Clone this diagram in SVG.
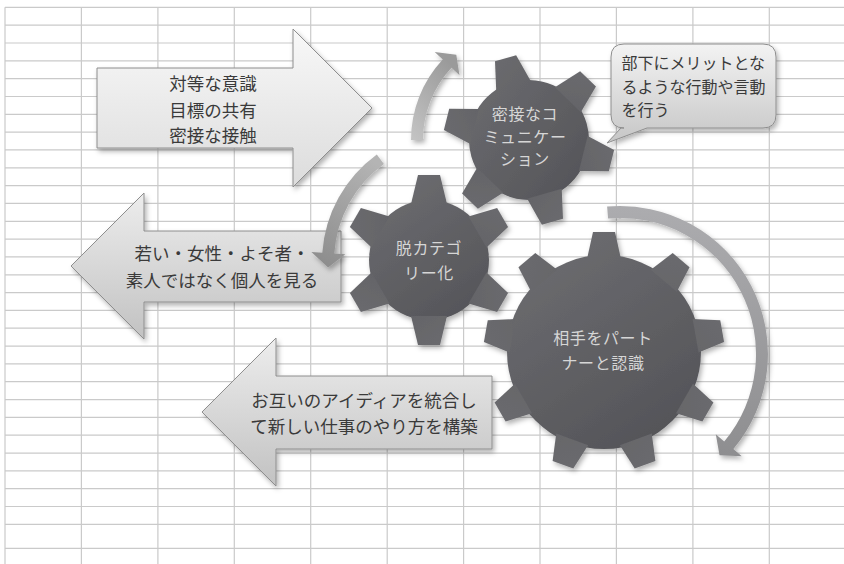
<svg xmlns="http://www.w3.org/2000/svg" width="844" height="564" viewBox="0 0 844 564">
<defs>
<style>
.t{font-family:"Noto Sans CJK JP","Noto Sans CJK SC",sans-serif;}
.at{font-size:17.5px;fill:#3a3a3a;text-anchor:middle;}
.gt{font-size:16px;fill:#d6d6d6;text-anchor:middle;letter-spacing:0.6px;}
.ct{font-size:16px;fill:#3a3a3a;}
.blk{stroke:#8e8e8e;stroke-width:1;}
</style>
<filter id="sh" x="-20%" y="-20%" width="140%" height="140%"><feDropShadow dx="2" dy="3" stdDeviation="2.5" flood-color="#000" flood-opacity="0.3"/></filter>
<linearGradient id="gA1" x1="0" y1="0" x2="0" y2="1"><stop offset="0" stop-color="#f8f8f8"/><stop offset="1" stop-color="#dcdcdc"/></linearGradient>
<linearGradient id="gA2" x1="0" y1="0" x2="0" y2="1"><stop offset="0" stop-color="#ededed"/><stop offset="1" stop-color="#c2c2c2"/></linearGradient>
<linearGradient id="gCo" x1="0" y1="0" x2="0" y2="1"><stop offset="0" stop-color="#f3f3f3"/><stop offset="1" stop-color="#c6c6c6"/></linearGradient>
<linearGradient id="gG6" gradientUnits="userSpaceOnUse" x1="-60" y1="-85" x2="60" y2="85"><stop offset="0" stop-color="#6e6e72"/><stop offset="1" stop-color="#505054"/></linearGradient>
<linearGradient id="gG9" gradientUnits="userSpaceOnUse" x1="-80" y1="-120" x2="80" y2="120"><stop offset="0" stop-color="#6e6e72"/><stop offset="1" stop-color="#505054"/></linearGradient>
<linearGradient id="cA" x1="0" y1="1" x2="0.6" y2="0"><stop offset="0" stop-color="#c4c4c4"/><stop offset="1" stop-color="#9a9a9a"/></linearGradient>
<linearGradient id="cB" x1="0.7" y1="0" x2="0.3" y2="1"><stop offset="0" stop-color="#b4b4b4"/><stop offset="1" stop-color="#8e8e8e"/></linearGradient>
<linearGradient id="cC" x1="0" y1="0" x2="0" y2="1"><stop offset="0" stop-color="#acacaf"/><stop offset="1" stop-color="#8e8e90"/></linearGradient>
<polygon id="t6" points="-18,-56 -11,-85 11,-85 18,-56"/>
<polygon id="t9" points="-17,-93 -11,-120 11,-120 17,-93"/>
</defs>
<rect width="844" height="564" fill="#ffffff"/>
<g id="grid" fill="none" stroke="#cacaca" stroke-width="1.2">
<path d="M5 7.3H844M5 25.1H844M5 43H844M5 60.8H844M5 78.6H844M5 96.5H844M5 114.3H844M5 132.1H844M5 149.9H844M5 167.8H844M5 185.6H844M5 203.4H844M5 221.3H844M5 239.1H844M5 256.9H844M5 274.8H844M5 292.6H844M5 310.4H844M5 328.2H844M5 346.1H844M5 363.9H844M5 381.7H844M5 399.6H844M5 417.4H844M5 435.2H844M5 453.1H844M5 470.9H844M5 488.7H844M5 506.5H844M5 524.4H844M5 548.3H844"/>
<path d="M5 7.3V564M81.4 7.3V564M157.9 7.3V564M234.3 7.3V564M310.7 7.3V564M387.2 7.3V564M463.6 7.3V564M540 7.3V564M616.4 7.3V564M692.9 7.3V564M769.3 7.3V564"/>
</g>
<g id="arrow-equal">
<polygon class="blk" fill="url(#gA1)" filter="url(#sh)" points="97,68 293,68 293,29 372,108 293,187 293,148 97,148"/>
<text class="t at" x="213" y="90">対等な意識</text>
<text class="t at" x="213" y="116.7">目標の共有</text>
<text class="t at" x="213" y="141.7">密接な接触</text>
</g>
<g id="arrow-individual">
<polygon class="blk" fill="url(#gA2)" filter="url(#sh)" points="341,231 144,231 144,193 71,266 144,339 144,302 341,302"/>
<text class="t at" x="222" y="260">若い・女性・よそ者・</text>
<text class="t at" x="222" y="286.7">素人ではなく個人を見る</text>
</g>
<g id="arrow-ideas">
<polygon class="blk" fill="url(#gA2)" filter="url(#sh)" points="492,376 276,376 276,338 202,412 276,486 276,449 492,449"/>
<text class="t at" x="364" y="406.7">お互いのアイディアを統合し</text>
<text class="t at" x="364" y="433.4">て新しい仕事のやり方を構築</text>
</g>
<g id="callout">
<path class="blk" fill="url(#gCo)" filter="url(#sh)" d="M624 44H763Q776 44 776 57V115Q776 128 763 128H647L607 143L621 128H624Q611 128 611 115V57Q611 44 624 44Z"/>
<text class="t ct" x="621.5" y="69.4">部下にメリットとな</text>
<text class="t ct" x="621.5" y="93.4">るような行動や言動</text>
<text class="t ct" x="621.5" y="116.1">を行う</text>
</g>
<g id="gear-communication">
<g filter="url(#sh)"><g transform="translate(529,140) rotate(-16)" fill="url(#gG6)">
<circle r="60"/><use href="#t6"/><use href="#t6" transform="rotate(60)"/><use href="#t6" transform="rotate(120)"/><use href="#t6" transform="rotate(180)"/><use href="#t6" transform="rotate(240)"/><use href="#t6" transform="rotate(300)"/>
</g></g>
<text class="t gt" x="525" y="119.5">密接なコ</text>
<text class="t gt" x="525" y="142.8">ミュニケー</text>
<text class="t gt" x="525" y="165">ション</text>
</g>
<g id="gear-decategorize">
<g filter="url(#sh)"><g transform="translate(429,260)" fill="url(#gG6)">
<circle r="60"/><use href="#t6"/><use href="#t6" transform="rotate(60)"/><use href="#t6" transform="rotate(120)"/><use href="#t6" transform="rotate(180)"/><use href="#t6" transform="rotate(240)"/><use href="#t6" transform="rotate(300)"/>
</g></g>
<text class="t gt" x="429" y="254">脱カテゴ</text>
<text class="t gt" x="429" y="279.3">リー化</text>
</g>
<g id="gear-partner">
<g filter="url(#sh)"><g transform="translate(604,352)" fill="url(#gG9)">
<circle r="97"/><use href="#t9"/><use href="#t9" transform="rotate(40)"/><use href="#t9" transform="rotate(80)"/><use href="#t9" transform="rotate(120)"/><use href="#t9" transform="rotate(160)"/><use href="#t9" transform="rotate(200)"/><use href="#t9" transform="rotate(240)"/><use href="#t9" transform="rotate(280)"/><use href="#t9" transform="rotate(320)"/>
</g></g>
<text class="t gt" x="603" y="344.3">相手をパート</text>
<text class="t gt" x="603" y="368.7">ナーと認識</text>
</g>
<g id="connectors" filter="url(#sh)">
<path fill="url(#cA)" d="M411 140A118 118 0 0 1 442.7 59.5L434.7 52L456.3 54.8L459.5 75.2L451.5 67.7A106 106 0 0 0 423 140Z"/>
<path fill="url(#cB)" d="M376.8 154.4A133 133 0 0 0 322.3 252.7L311.4 252L328.1 267.5L345.3 254.3L334.3 253.6A121 121 0 0 1 383.9 164.1Z"/>
<path fill="url(#cC)" d="M607.1 206.6A148 148 0 0 1 733.4 449.1L741.8 456.2L719.5 455.3L715.8 434.3L724.2 441.4A136 136 0 0 0 608.1 218.5Z"/>
</g>
</svg>
